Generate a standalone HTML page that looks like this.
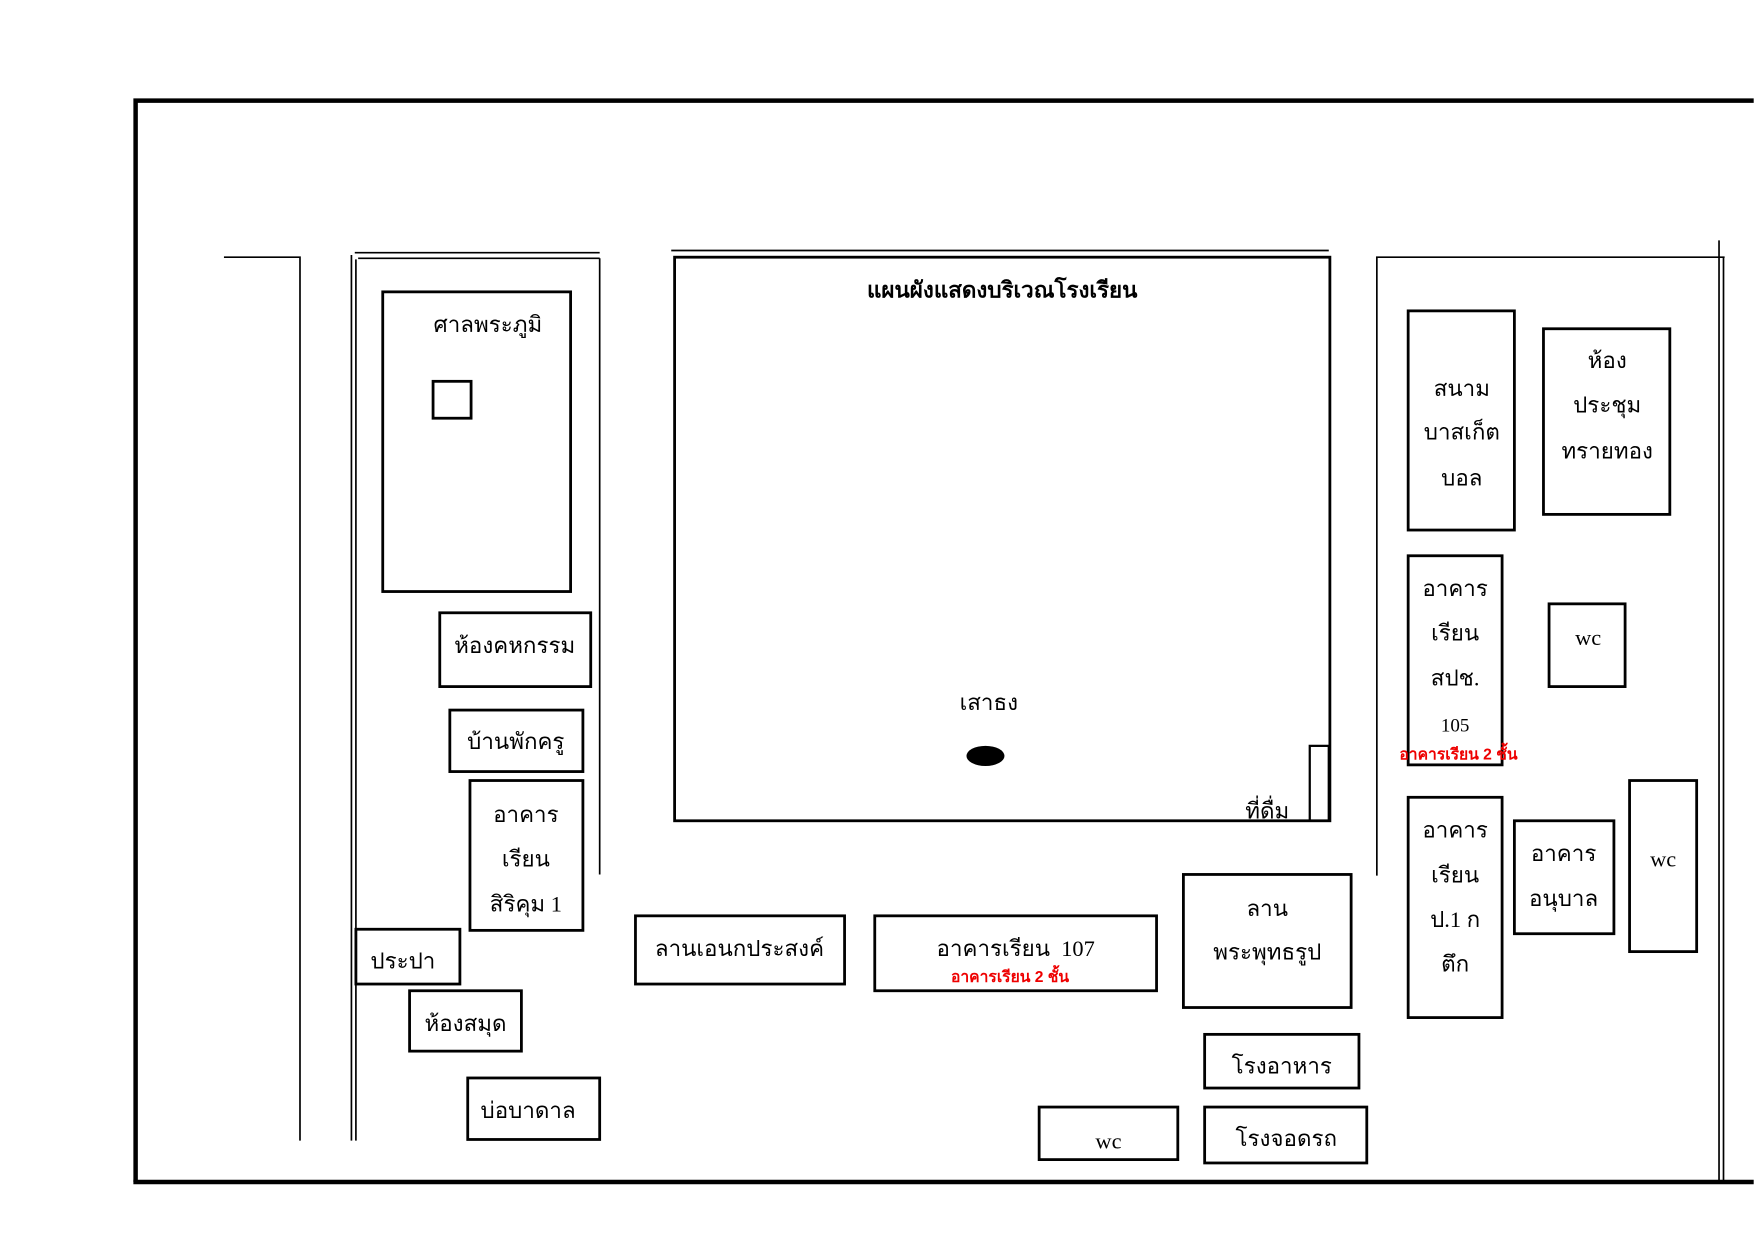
<!DOCTYPE html>
<html><head><meta charset="utf-8"><style>
html,body{margin:0;padding:0;background:#fff;}
svg{display:block;}
text{font-family:"Liberation Serif","DejaVu Serif",serif;font-size:20px;fill:#000;text-anchor:middle;}
.r{fill:#e00;font-family:"Liberation Sans","DejaVu Sans",sans-serif;font-size:14px;font-weight:bold;}
</style></head><body>
<svg width="1754" height="1239" viewBox="0 0 1568 1108" xmlns="http://www.w3.org/2000/svg">
<g fill="none" stroke="#000">
<path d="M121 1057 V90 H1568" stroke-width="4"/>
<path d="M119 1057 H1568" stroke-width="4"/>
<path d="M200 230 H268 V1020" stroke-width="1.5"/>
<path d="M314 1020 V228 M318 1020 V232 M317 226 H536 M320 231 H536 M536 231 V782" stroke-width="1.5"/>
<path d="M600 224 H1188" stroke-width="1.5"/>
<rect x="603" y="230" width="586" height="504" stroke-width="2.5"/>
<rect x="1171" y="667" width="17" height="67" stroke-width="2"/>
<path d="M1231 783 V230 H1542 M1537 215 V1057 M1541 230 V1057" stroke-width="1.5"/>
<g stroke-width="2.5">
<rect x="342" y="261" width="168" height="268"/>
<rect x="387" y="341" width="34" height="33"/>
<rect x="393" y="548" width="135" height="66"/>
<rect x="402" y="635" width="119" height="55"/>
<rect x="420" y="698" width="101" height="134"/>
<rect x="318" y="831" width="93" height="49"/>
<rect x="366" y="886" width="100" height="54"/>
<rect x="418" y="964" width="118" height="55"/>
<rect x="568" y="819" width="187" height="61"/>
<rect x="782" y="819" width="252" height="67"/>
<rect x="1058" y="782" width="150" height="119"/>
<rect x="1077" y="925" width="138" height="48"/>
<rect x="929" y="990" width="124" height="47"/>
<rect x="1077" y="990" width="145" height="50"/>
<rect x="1259" y="278" width="95" height="196"/>
<rect x="1380" y="294" width="113" height="166"/>
<rect x="1259" y="497" width="84" height="187"/>
<rect x="1385" y="540" width="68" height="74"/>
<rect x="1259" y="713" width="84" height="197"/>
<rect x="1354" y="734" width="89" height="101"/>
<rect x="1457" y="698" width="60" height="153"/>
</g>
</g>
<ellipse cx="881" cy="676" rx="17" ry="9" fill="#000"/>
<text x="896" y="266" style="font-weight:bold">แผนผังแสดงบริเวณโรงเรียน</text>
<text x="436" y="297">ศาลพระภูมิ</text>
<text x="460" y="584">ห้องคหกรรม</text>
<text x="461" y="670">บ้านพักครู</text>
<text x="470" y="735">อาคาร</text>
<text x="470" y="775">เรียน</text>
<text x="470" y="815">สิริคุม 1</text>
<text x="360" y="866">ประปา</text>
<text x="416" y="922">ห้องสมุด</text>
<text x="472" y="1000">บ่อบาดาล</text>
<text x="661" y="855">ลานเอนกประสงค์</text>
<text x="908" y="855">อาคารเรียน&#160;&#160;107</text>
<text x="903" y="878" class="r">อาคารเรียน 2 ชั้น</text>
<text x="1133" y="819">ลาน</text>
<text x="1133" y="858">พระพุทธรูป</text>
<text x="1146" y="960">โรงอาหาร</text>
<text x="991" y="1027">wc</text>
<text x="1150" y="1025">โรงจอดรถ</text>
<text x="884" y="635">เสาธง</text>
<text x="1133" y="732">ที่ดื่ม</text>
<text x="1307" y="354">สนาม</text>
<text x="1307" y="393">บาสเก็ต</text>
<text x="1307" y="434">บอล</text>
<text x="1437" y="329">ห้อง</text>
<text x="1437" y="369">ประชุม</text>
<text x="1437" y="410">ทรายทอง</text>
<text x="1301" y="533">อาคาร</text>
<text x="1301" y="573">เรียน</text>
<text x="1301" y="613">สปช.</text>
<text x="1301" y="654" style="font-size:17px">105</text>
<text x="1304" y="679" class="r">อาคารเรียน 2 ชั้น</text>
<text x="1420" y="577">wc</text>
<text x="1301" y="749">อาคาร</text>
<text x="1301" y="789">เรียน</text>
<text x="1301" y="829">ป.1 ก</text>
<text x="1301" y="869">ตึก</text>
<text x="1398" y="770">อาคาร</text>
<text x="1398" y="810">อนุบาล</text>
<text x="1487" y="775">wc</text>
</svg>
</body></html>
